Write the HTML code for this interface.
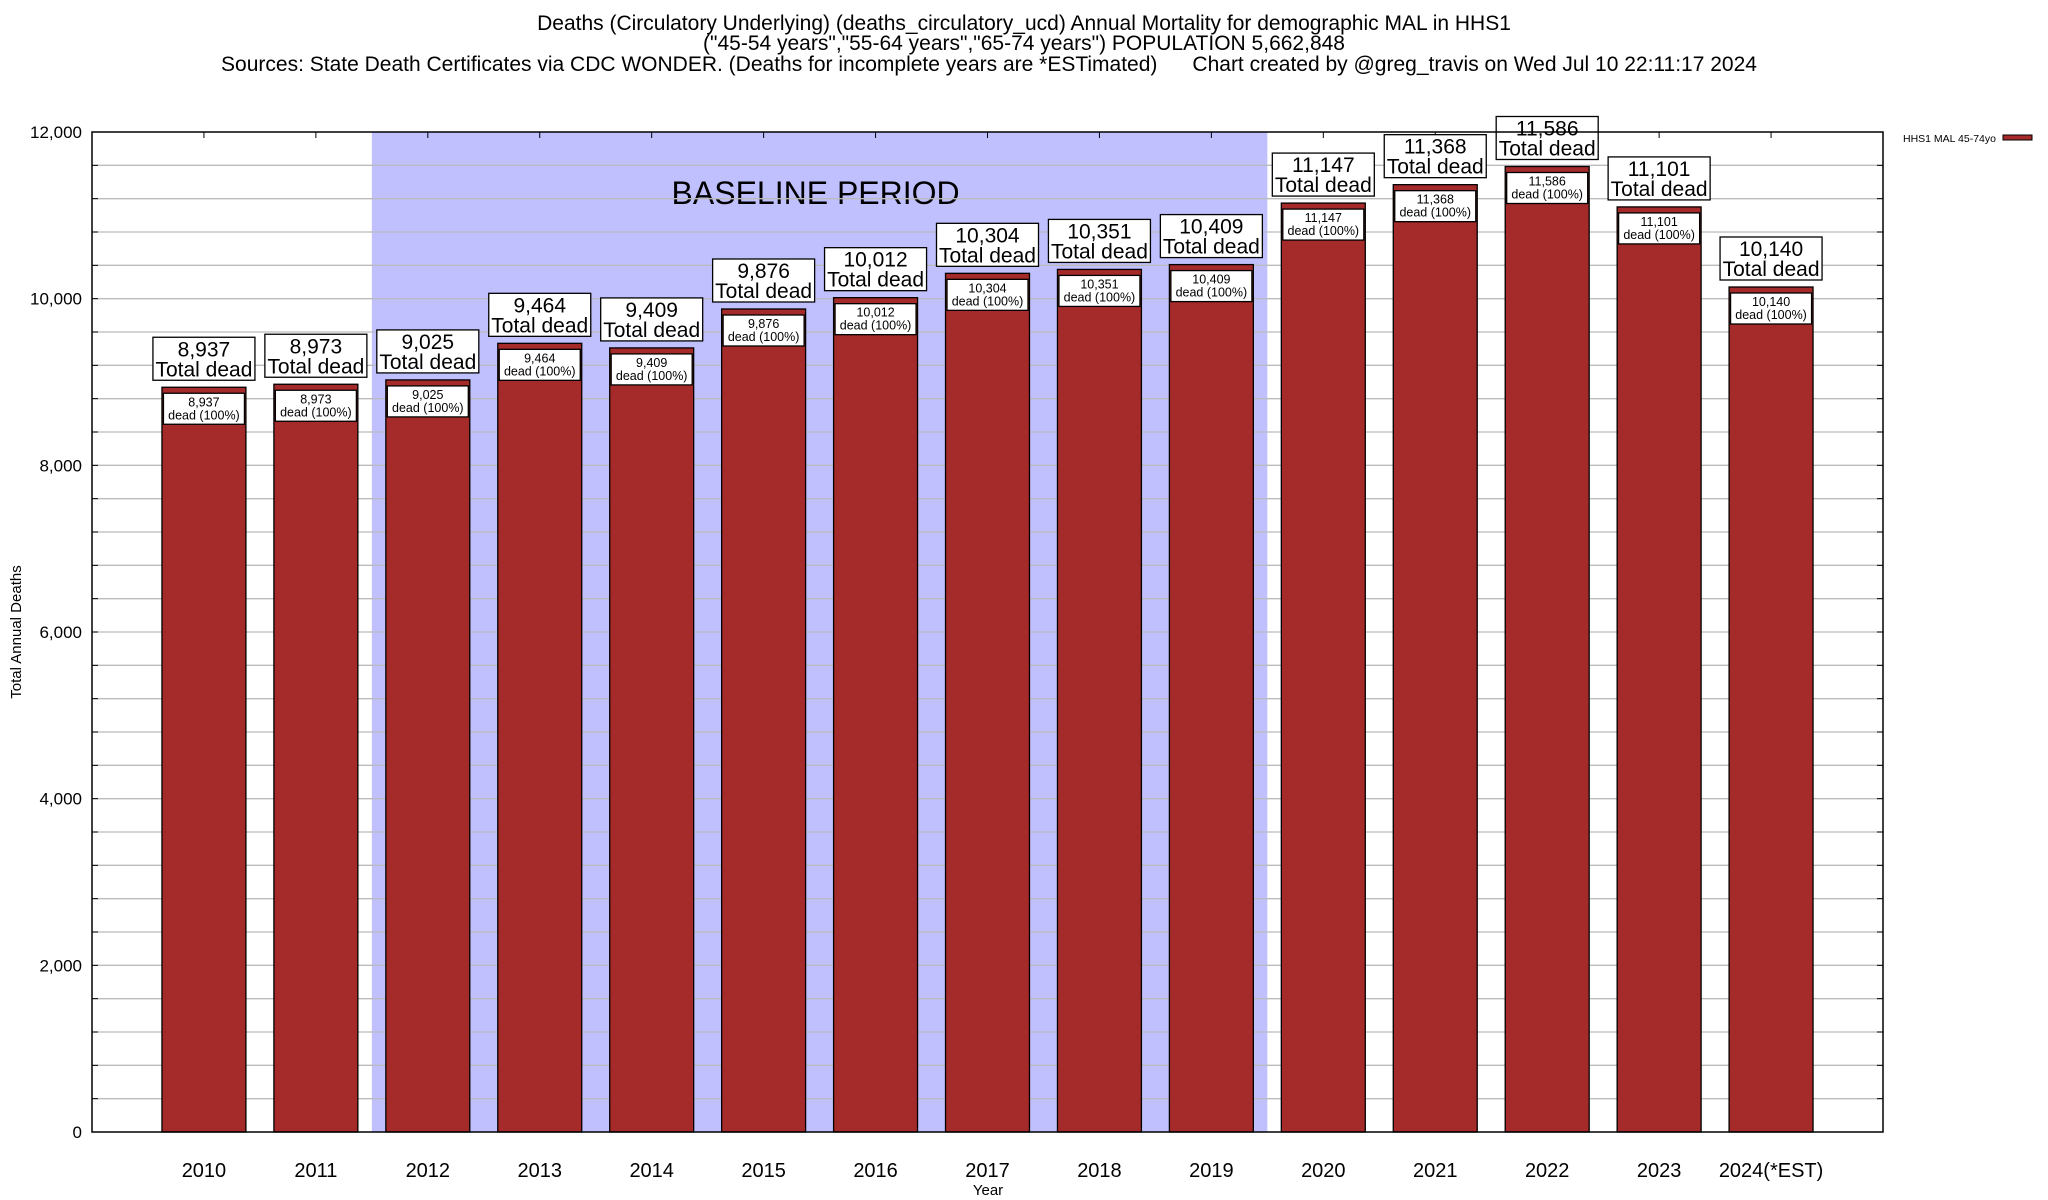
<!DOCTYPE html>
<html><head><meta charset="utf-8"><style>
html,body{margin:0;padding:0;background:#fff;}
svg{display:block;font-family:"Liberation Sans",Arial,sans-serif;}
</style></head><body>
<svg id="chart" width="2048" height="1200" viewBox="0 0 2048 1200">
<g font-size="21" text-anchor="middle" fill="#000">
<text x="1024" y="30">Deaths (Circulatory Underlying) (deaths_circulatory_ucd) Annual Mortality for demographic MAL in HHS1</text>
<text x="1024" y="50">("45-54 years","55-64 years","65-74 years") POPULATION 5,662,848</text>
<text x="989" y="71" xml:space="preserve">Sources: State Death Certificates via CDC WONDER. (Deaths for incomplete years are *ESTimated)      Chart created by @greg_travis on Wed Jul 10 22:11:17 2024</text>
</g>
<g id="plot"></g>
</svg>
<script>
const categories = ["2010","2011","2012","2013","2014","2015","2016","2017","2018","2019","2020","2021","2022","2023","2024(*EST)"];
const deaths = [8937,8973,9025,9464,9409,9876,10012,10304,10351,10409,11147,11368,11586,11101,10140];
const yTicks = [0,2000,4000,6000,8000,10000,12000];
const yTickLabels = ["0","2,000","4,000","6,000","8,000","10,000","12,000"];
const baselineStart = 2, baselineEnd = 9;

const NS="http://www.w3.org/2000/svg";
const L=92,R=1883,T=132,B=1132,YMAX=12000;
const unit=(R-L)/(categories.length+1);
const xc=i=>L+(i+1)*unit;
const y=v=>B-(v/YMAX)*(B-T);
const fmt=v=>v.toLocaleString("en-US");
const g=document.getElementById("plot");
function el(tag,attrs,parent){const e=document.createElementNS(NS,tag);for(const k in attrs)e.setAttribute(k,attrs[k]);(parent||g).appendChild(e);return e;}

const sh=el("rect",{x:xc(baselineStart)-unit/2,y:T,width:(baselineEnd-baselineStart+1)*unit,height:B-T,fill:"#c0c0ff"});


const bt=el("text",{x:(xc(baselineStart)+xc(baselineEnd))/2-4,y:204,"font-size":"32","text-anchor":"middle"});
bt.textContent="BASELINE PERIOD";



for(let v=400;v<YMAX;v+=400){
  const ln=el("line",{x1:L,x2:R,y1:y(v),y2:y(v),stroke:"#bbbbbb","stroke-width":"1.3"});
  
  
  const t1=el("line",{x1:L,x2:L+6,y1:y(v),y2:y(v),stroke:"#000","stroke-width":"1"});
  
  
  const t2=el("line",{x1:R-6,x2:R,y1:y(v),y2:y(v),stroke:"#000","stroke-width":"1"});
  
  
}
yTicks.forEach((v,i)=>{
  const t=el("text",{x:82,y:y(v)+6,"font-size":"17","text-anchor":"end"});
  t.textContent=yTickLabels[i];
  
  
});

const bw=unit*0.75;
deaths.forEach((v,i)=>{
  const cx=xc(i), top=y(v);
  const bar=el("rect",{x:cx-bw/2,y:top,width:bw,height:B-top,fill:"#a52a2a",stroke:"#000","stroke-width":"1.3"});
  
  
  const tk=el("line",{x1:cx,x2:cx,y1:T,y2:T+6,stroke:"#000"});
  
  
  const ib=el("rect",{x:cx-40.5,y:top+6,width:81,height:31,fill:"#fff",stroke:"#000","stroke-width":"1.3"});
  
  
  const it=el("text",{x:cx,y:top+19,"font-size":"12.5","text-anchor":"middle"});
  
  
  const s1=el("tspan",{x:cx},it); s1.textContent=fmt(v);
  const s2=el("tspan",{x:cx,dy:"13"},it); s2.textContent="dead (100%)";
  const ob=el("rect",{x:cx-51,y:top-50,width:102,height:43,fill:"#fff",stroke:"#000","stroke-width":"1.3"});
  
  
  const ot=el("text",{x:cx,y:top-31,"font-size":"21","text-anchor":"middle"});
  
  
  const o1=el("tspan",{x:cx},ot); o1.textContent=fmt(v);
  const o2=el("tspan",{x:cx,dy:"20"},ot); o2.textContent="Total dead";
  const xl=el("text",{x:cx,y:1177,"font-size":"20","text-anchor":"middle"});
  xl.textContent=categories[i];
  
  
});

const fr=el("rect",{x:L,y:T,width:R-L,height:B-T,fill:"none",stroke:"#000","stroke-width":"1.5"});



const xt=el("text",{x:988,y:1195,"font-size":"15","text-anchor":"middle"});
xt.textContent="Year";


const yt=el("text",{x:0,y:0,"font-size":"15","text-anchor":"middle",transform:"translate(21,632) rotate(-90)"});
yt.textContent="Total Annual Deaths";



const lt=el("text",{x:1996,y:142,"font-size":"10.5","text-anchor":"end"});
lt.textContent="HHS1 MAL 45-74yo";


const ls=el("rect",{x:2003,y:135,width:29,height:5,fill:"#a52a2a",stroke:"#000","stroke-width":"1"});


</script>
</body></html>
